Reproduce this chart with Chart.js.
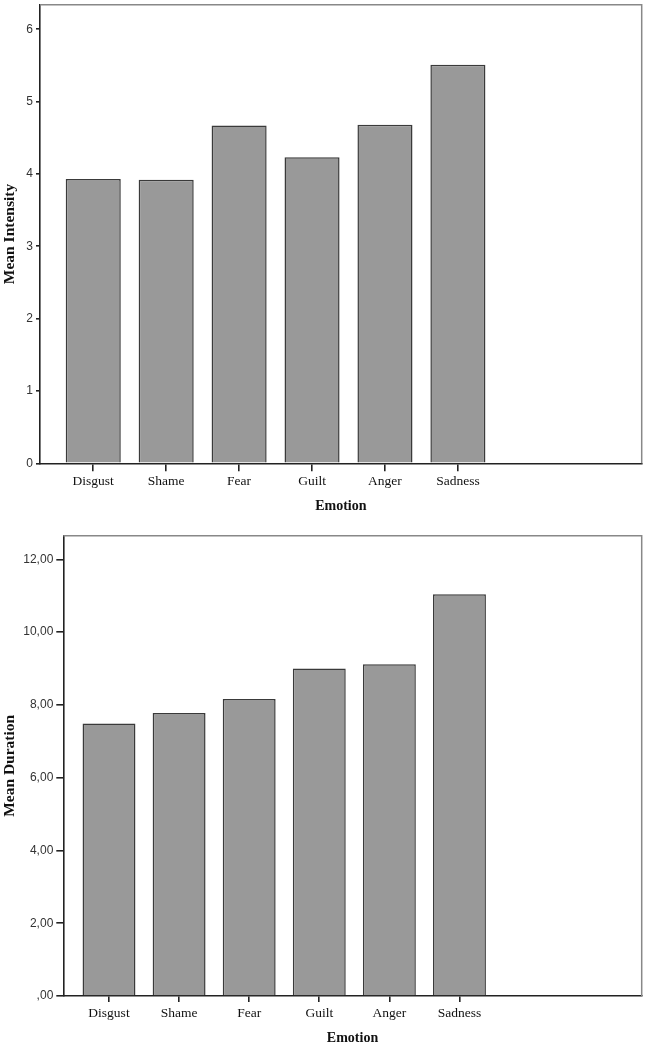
<!DOCTYPE html>
<html>
<head>
<meta charset="utf-8">
<script src="https://cdn.jsdelivr.net/npm/chart.js@4"></script>
<style>
  body { margin: 0; background: white; }
  .box { position: absolute; left: 0; width: 647px; }
</style>
</head>
<body>
<div class="box" style="top:0; height:520px;"><canvas id="intensityChart"></canvas></div>
<div class="box" style="top:520px; height:528px;"><canvas id="durationChart"></canvas></div>
<script>
// values
const emotions = ["Disgust", "Shame", "Fear", "Guilt", "Anger", "Sadness"];
const meanIntensity = [3.93, 3.92, 4.67, 4.23, 4.68, 5.51];
const meanDuration = [7.49, 7.78, 8.16, 9.0, 9.12, 11.04];
const intensityTicks = ["0", "1", "2", "3", "4", "5", "6"];
const durationTicks = [",00", "2,00", "4,00", "6,00", "8,00", "10,00", "12,00"];

const serif = "'Liberation Serif', 'Times New Roman', serif";
const sans = "'Liberation Sans', Arial, sans-serif";

// top + right edges of the frame (left/bottom are the axis borders)
const framePlugin = {
  id: "frame",
  afterDraw(chart) {
    const a = chart.chartArea;
    const ctx = chart.ctx;
    ctx.save();
    ctx.strokeStyle = "#888";
    ctx.lineWidth = 1.5;
    ctx.beginPath();
    ctx.moveTo(a.left, a.top);
    ctx.lineTo(a.right, a.top);
    ctx.lineTo(a.right, a.bottom);
    ctx.stroke();
    ctx.restore();
  }
};

function makeChart(id, values, yTitle, yTicks, s) {
  const points = values.map((v, i) => ({ x: i, y: v }));
  return new Chart(document.getElementById(id), {
    type: "bar",
    data: {
      datasets: [{
        data: points,
        backgroundColor: "#999999",
        borderColor: "#3a3a3a",
        borderWidth: 1.5,
        categoryPercentage: 1,
        barPercentage: 0.755
      }]
    },
    options: {
      responsive: true,
      maintainAspectRatio: false,
      animation: false,
      layout: { padding: { top: s.padTop, right: 5.3, left: 0, bottom: 0 } },
      plugins: { legend: { display: false }, tooltip: { enabled: false } },
      scales: {
        x: {
          type: "linear",
          min: s.xMin,
          max: s.xMax,
          offset: false,
          grid: { offset: false, drawOnChartArea: false, drawTicks: true, tickLength: s.xTick, color: "#222", lineWidth: 1.6 },
          border: { display: true, color: "#222", width: 1.6 },
          afterBuildTicks: axis => { axis.ticks = emotions.map((e, i) => ({ value: i })); },
          ticks: {
            autoSkip: false,
            maxRotation: 0,
            padding: s.xPad,
            color: "#111",
            font: { family: serif, size: 13.5 },
            callback: value => emotions[value]
          },
          title: {
            display: true,
            text: "Emotion",
            color: "#111",
            font: { family: serif, size: 14, weight: "bold" },
            padding: { top: 4, bottom: s.xTitlePad }
          },
          afterFit: axis => { axis.height = s.xHeight; axis.paddingLeft = 0; axis.paddingRight = 0; }
        },
        y: {
          min: 0,
          max: s.yMax,
          grid: { drawOnChartArea: false, drawTicks: true, tickLength: s.yTick, color: "#222", lineWidth: 1.6 },
          border: { display: true, color: "#222", width: 1.6 },
          ticks: {
            stepSize: s.yStep,
            includeBounds: false,
            padding: 3,
            color: "#333",
            font: { family: sans, size: 12 },
            callback: (value, index) => yTicks[index]
          },
          title: {
            display: true,
            text: yTitle,
            color: "#111",
            font: { family: serif, size: 15.5, weight: "bold" },
            padding: { top: 1, bottom: 0 }
          },
          afterFit: axis => { axis.width = s.yWidth; axis.paddingTop = 0; axis.paddingBottom = 0; }
        }
      }
    },
    plugins: [framePlugin]
  });
}

makeChart("intensityChart", meanIntensity, "Mean Intensity", intensityTicks, {
  padTop: 4.7, xMin: -0.73, xMax: 7.52, xTick: 8, xPad: 2.3, xTitlePad: 4.9, xHeight: 56.7,
  yMax: 6.34, yStep: 1, yTick: 4, yWidth: 40
});

makeChart("durationChart", meanDuration, "Mean Duration", durationTicks, {
  padTop: 15.7, xMin: -0.652, xMax: 7.6, xTick: 6, xPad: 3.2, xTitlePad: 1.6, xHeight: 52,
  yMax: 12.65, yStep: 2, yTick: 7, yWidth: 63.3
});
</script>
</body>
</html>
